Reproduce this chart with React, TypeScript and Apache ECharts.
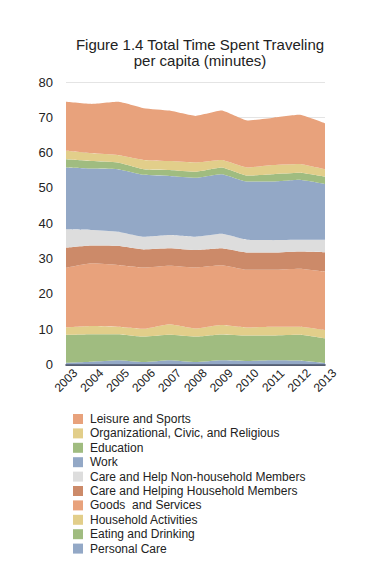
import React, { useEffect, useRef } from "react";
import * as echarts from "echarts";

const years = ["2003", "2004", "2005", "2006", "2007", "2008", "2009", "2010", "2011", "2012", "2013"];

const personalCare = [0.5, 0.8, 1.2, 0.7, 1.2, 0.7, 1.2, 1.0, 1.2, 1.1, 0.4];
const eatingDrinking = [7.9, 7.8, 7.4, 7.2, 7.2, 7.2, 7.3, 7.2, 7.0, 7.3, 7.0];
const householdActivities = [2.1, 2.3, 2.1, 2.2, 3.0, 2.3, 2.7, 2.3, 2.5, 2.3, 2.4];
const goodsServices = [16.9, 17.8, 17.5, 17.4, 16.6, 17.3, 16.9, 16.3, 16.1, 16.4, 16.5];
const careHousehold = [5.7, 5.0, 5.4, 5.1, 4.9, 4.9, 4.8, 4.9, 4.9, 4.9, 5.5];
const careNonHousehold = [5.2, 4.4, 4.0, 3.6, 3.8, 3.8, 4.1, 3.6, 3.5, 3.3, 3.5];
const work = [17.5, 17.4, 17.7, 17.5, 16.7, 16.7, 16.9, 16.5, 16.6, 17.0, 15.8];
const education = [2.3, 2.1, 1.9, 1.6, 1.7, 1.7, 1.9, 1.7, 2.1, 2.0, 2.1];
const organizational = [2.4, 2.2, 2.1, 2.6, 2.5, 2.6, 2.1, 2.3, 2.6, 2.5, 2.1];
const leisureSports = [13.9, 14.0, 15.1, 14.7, 14.3, 13.2, 14.0, 13.3, 13.4, 13.9, 13.0];

const seriesNames = [
  "Personal Care",
  "Eating and Drinking",
  "Household Activities",
  "Goods  and Services",
  "Care and Helping Household Members",
  "Care and Help Non-household Members",
  "Work",
  "Education",
  "Organizational, Civic, and Religious",
  "Leisure and Sports",
];
const seriesData = [
  personalCare,
  eatingDrinking,
  householdActivities,
  goodsServices,
  careHousehold,
  careNonHousehold,
  work,
  education,
  organizational,
  leisureSports,
];
const seriesColors = [
  "#93a8c6",
  "#a0bc80",
  "#e2ce8a",
  "#e8a27c",
  "#cc8a69",
  "#dddddd",
  "#93a8c6",
  "#a0bc80",
  "#e2ce8a",
  "#e8a27c",
];

const yTicks = [0, 10, 20, 30, 40, 50, 60, 70, 80];

export default function App() {
  const ref = useRef<HTMLDivElement>(null);
  useEffect(() => {
    if (!ref.current) return;
    const chart = echarts.init(ref.current, undefined, { renderer: "svg" });
    const font = "'Liberation Sans', Arial, Helvetica, sans-serif";
    chart.setOption({
      animation: false,
      backgroundColor: "#ffffff",
      textStyle: { fontFamily: font },
      title: {
        text: "Figure 1.4 Total Time Spent Traveling\nper capita (minutes)",
        left: 195,
        textAlign: "center",
        top: 31,
        textStyle: {
          fontFamily: font,
          fontSize: 15,
          fontWeight: "normal",
          color: "#222",
          lineHeight: 16.5,
        },
      },
      legend: {
        orient: "vertical",
        left: 68,
        top: 407,
        icon: "rect",
        itemWidth: 10,
        itemHeight: 10,
        itemGap: 0.4,
        data: seriesNames.slice().reverse(),
        textStyle: {
          fontFamily: font,
          fontSize: 12,
          color: "#222",
          lineHeight: 14,
          padding: [0, 0, 0, 2],
        },
      },
      grid: { left: 66, right: 57, top: 82, bottom: 221.5, containLabel: false },
      xAxis: {
        type: "category",
        data: years,
        boundaryGap: false,
        axisLine: { show: true, lineStyle: { color: "#1e2a45", width: 1.5 } },
        axisTick: { show: false },
        axisLabel: {
          rotate: 45,
          align: "center",
          verticalAlign: "middle",
          margin: 16,
          fontSize: 12,
          color: "#222",
          fontFamily: font,
          interval: 0,
        },
      },
      yAxis: {
        type: "value",
        min: yTicks[0],
        max: yTicks[yTicks.length - 1],
        interval: 10,
        axisLine: { show: false },
        axisTick: { show: false },
        axisLabel: { fontSize: 13, color: "#222", margin: 13, fontFamily: font },
        splitLine: { show: true, lineStyle: { color: "#e4e4e4", width: 1 } },
      },
      series: seriesNames.map((name, i) => ({
        name,
        type: "line",
        stack: "total",
        data: seriesData[i],
        symbol: "none",
        smooth: 0.15,
        lineStyle: { width: 0 },
        areaStyle: { color: seriesColors[i], opacity: 1 },
        itemStyle: { color: seriesColors[i] },
      })),
    });
    return () => chart.dispose();
  }, []);
  return <div ref={ref} style={{ width: 382, height: 586, marginLeft: -8, marginTop: -8 }} />;
}
